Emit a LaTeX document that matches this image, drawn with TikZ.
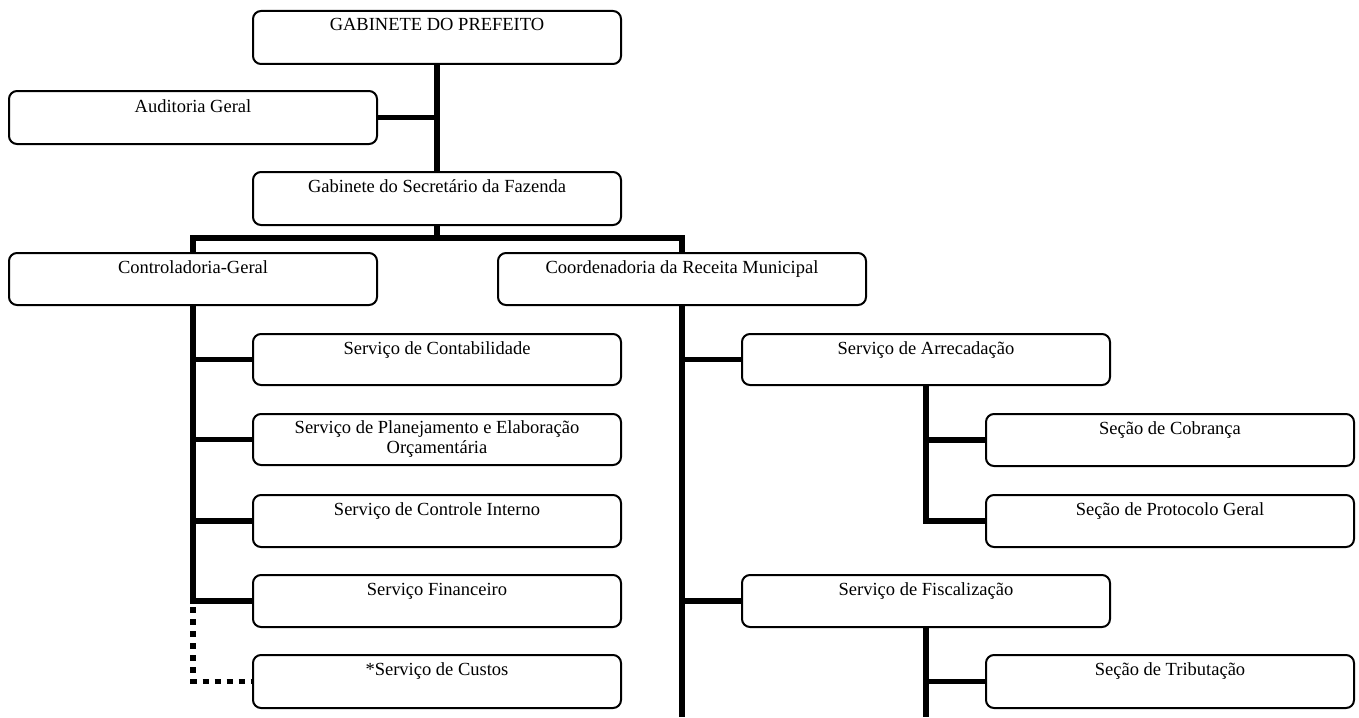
\documentclass[tikz,border=0pt]{standalone}
\usepackage{fontspec}
\setmainfont{Liberation Serif}
\usetikzlibrary{calc}
\begin{document}
\begin{tikzpicture}[x=1pt,y=-1pt,
  box/.style={draw, line width=2pt, rounded corners=8pt, minimum width=368pt, inner sep=0pt, anchor=north west},
  txt/.style={anchor=base, inner sep=0pt, font=\fontsize{18.5}{20}\selectfont},
  conn/.style={line width=5.5pt},
  dotconn/.style={line width=5.5pt, dash pattern=on 6pt off 6pt}]
\useasboundingbox (0,0) rectangle (1359,717);
\coordinate (bottomline) at (0,717);
% boxes
\node[box, minimum height=53pt] (gp) at (252,10) {};
\node[box, minimum height=53pt] (aud) at (8,90) {};
\node[box, minimum height=53pt] (gs) at (252,171) {};
\node[box, minimum height=52pt] (ctrl) at (8,252) {};
\node[box, minimum height=52pt] (coord) at (497,252) {};
\node[box, minimum height=51pt] (cont) at (252,333) {};
\node[box, minimum height=51pt] (plan) at (252,413) {};
\node[box, minimum height=52pt] (ci) at (252,494) {};
\node[box, minimum height=52pt] (fin) at (252,574) {};
\node[box, minimum height=53pt] (cus) at (252,654) {};
\node[box, minimum height=51pt] (arr) at (741,333) {};
\node[box, minimum height=52pt] (cob) at (985,413) {};
\node[box, minimum height=52pt] (prot) at (985,494) {};
\node[box, minimum height=52pt] (fis) at (741,574) {};
\node[box, minimum height=53pt] (trib) at (985,654) {};
% texts
\node[txt] (gpt) at ($(gp.north)+(0,21)$) {GABINETE DO PREFEITO};
\node[txt] (audt) at ($(aud.north)+(0,22)$) {Auditoria Geral};
\node[txt] (gst) at ($(gs.north)+(0,21)$) {Gabinete do Secretário da Fazenda};
\node[txt] (ctrlt) at ($(ctrl.north)+(0,21)$) {Controladoria-Geral};
\node[txt] (coordt) at ($(coord.north)+(0,21)$) {Coordenadoria da Receita Municipal};
\node[txt] (contt) at ($(cont.north)+(0,21)$) {Serviço de Contabilidade};
\node[txt] (plant) at ($(plan.north)+(0,20)$) {Serviço de Planejamento e Elaboração};
\node[txt] (plantb) at ($(plan.north)+(0,40)$) {Orçamentária};
\node[txt] (cit) at ($(ci.north)+(0,21)$) {Serviço de Controle Interno};
\node[txt] (fint) at ($(fin.north)+(0,21)$) {Serviço Financeiro};
\node[txt] (cust) at ($(cus.north)+(0,21)$) {*Serviço de Custos};
\node[txt] (arrt) at ($(arr.north)+(0,21)$) {Serviço de Arrecadação};
\node[txt] (cobt) at ($(cob.north)+(0,21)$) {Seção de Cobrança};
\node[txt] (prott) at ($(prot.north)+(0,21)$) {Seção de Protocolo Geral};
\node[txt] (fist) at ($(fis.north)+(0,21)$) {Serviço de Fiscalização};
\node[txt] (tribt) at ($(trib.north)+(0,21)$) {Seção de Tributação};
% connectors
\draw[conn] (gp.south) -- (gs.north);
\draw[conn] (aud.east) -- (aud.east -| gp.south);
\coordinate (bar) at ($(gs.south)+(0,12)$);
\draw[conn] (gs.south) -- (bar);
\draw[conn] (ctrl.north) |- (bar) -| (coord.north);
\draw[conn] (ctrl.south) |- (fin.west);
\draw[conn] (cont.west) -- (cont.west -| ctrl.south);
\draw[conn] (plan.west) -- (plan.west -| ctrl.south);
\draw[conn] (ci.west) -- (ci.west -| ctrl.south);
\coordinate (dotstart) at ($(fin.west -| ctrl.south)+(0,6)$);
\draw[dotconn] (dotstart) |- (cus.west);
\coordinate (cbot) at (coord.south |- bottomline);
\draw[conn] (coord.south) -- (cbot);
\draw[conn] (arr.west) -- (arr.west -| coord.south);
\draw[conn] (fis.west) -- (fis.west -| coord.south);
\draw[conn] (arr.south) |- (prot.west);
\draw[conn] (cob.west) -- (cob.west -| arr.south);
\coordinate (fbot) at (fis.south |- bottomline);
\draw[conn] (fis.south) -- (fbot);
\draw[conn] (trib.west) -- (trib.west -| fis.south);
\end{tikzpicture}
\end{document}
